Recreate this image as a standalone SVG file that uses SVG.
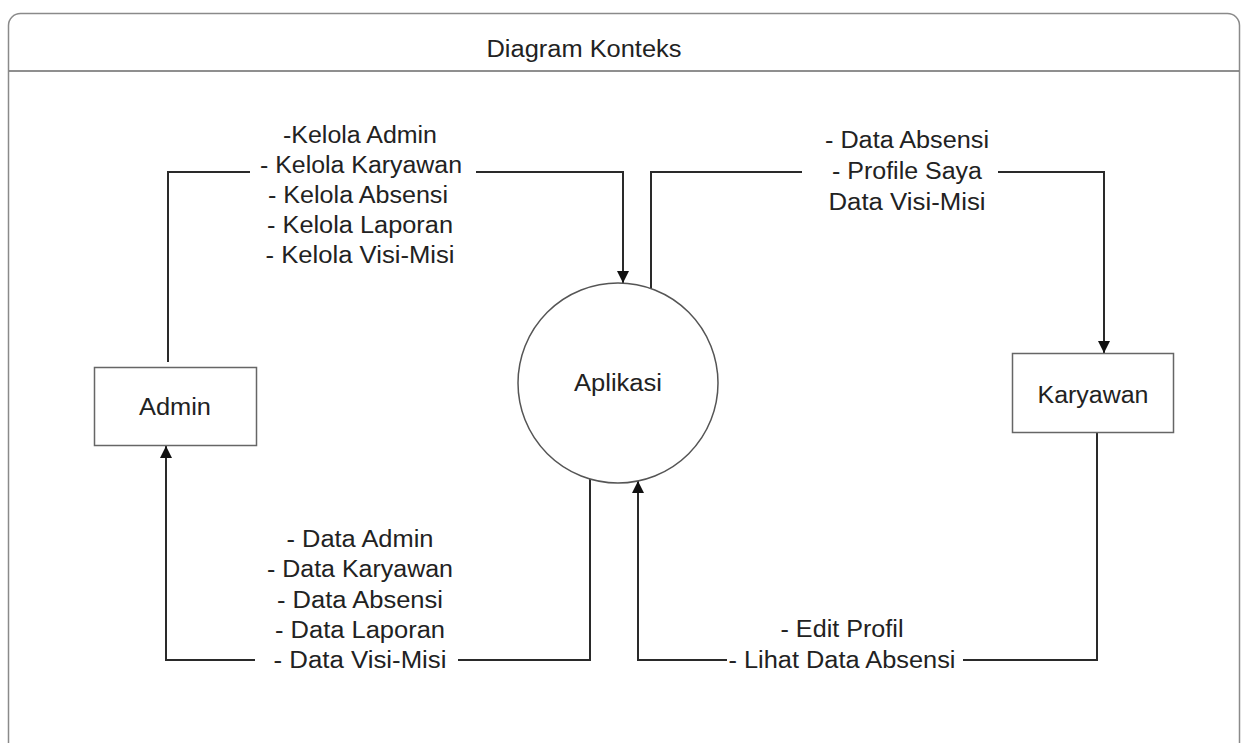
<svg xmlns="http://www.w3.org/2000/svg" width="1244" height="743" viewBox="0 0 1244 743">
<defs>
<marker id="arr" markerUnits="userSpaceOnUse" markerWidth="12" markerHeight="14" refX="12" refY="6" orient="auto">
<path d="M0,0 L12,6 L0,12 Z" fill="#111"/>
</marker>
<style>
text{font-family:"Liberation Sans",Arial,sans-serif;font-size:23px;fill:#222;text-anchor:middle}
.conn{fill:none;stroke:#2a2a2a;stroke-width:2}
.box{fill:#fff;stroke:#666;stroke-width:1.5}
.bg{fill:#fff;stroke:none}
</style>
</defs>
<rect width="1244" height="743" fill="#fff"/>
<g id="frame">
<rect x="8.5" y="13.5" width="1231" height="780" rx="12" ry="12" fill="none" stroke="#8a8a8a" stroke-width="1.5"/>
<line x1="9" y1="71" x2="1239" y2="71" stroke="#6a6a6a" stroke-width="1.5"/>
<text x="584" y="57" textLength="195" lengthAdjust="spacingAndGlyphs">Diagram Konteks</text>
</g>
<g id="connectors">
<path class="conn" d="M168 362 V172 H623 V283" marker-end="url(#arr)"/>
<path class="conn" d="M651 289 V172 H1104 V353" marker-end="url(#arr)"/>
<path class="conn" d="M590 479 V660 H166 V446" marker-end="url(#arr)"/>
<path class="conn" d="M1097 433 V660 H638 V481" marker-end="url(#arr)"/>
</g>
<g id="label-admin-to-app">
<rect class="bg" x="250" y="120" width="226" height="150"/>
<text x="360" y="143" textLength="154" lengthAdjust="spacingAndGlyphs">-Kelola Admin</text>
<text x="361" y="173" textLength="202" lengthAdjust="spacingAndGlyphs">- Kelola Karyawan</text>
<text x="358" y="203" textLength="180" lengthAdjust="spacingAndGlyphs">- Kelola Absensi</text>
<text x="360" y="233" textLength="186" lengthAdjust="spacingAndGlyphs">- Kelola Laporan</text>
<text x="360" y="263" textLength="189" lengthAdjust="spacingAndGlyphs">- Kelola Visi-Misi</text>
</g>
<g id="label-app-to-karyawan">
<rect class="bg" x="802" y="126" width="196" height="92"/>
<text x="907" y="148" textLength="164" lengthAdjust="spacingAndGlyphs">- Data Absensi</text>
<text x="907" y="179" textLength="150" lengthAdjust="spacingAndGlyphs">- Profile Saya</text>
<text x="907" y="210" textLength="157" lengthAdjust="spacingAndGlyphs">Data Visi-Misi</text>
</g>
<g id="label-app-to-admin">
<rect class="bg" x="255" y="525" width="203" height="150"/>
<text x="360" y="547" textLength="147" lengthAdjust="spacingAndGlyphs">- Data Admin</text>
<text x="360" y="577" textLength="186" lengthAdjust="spacingAndGlyphs">- Data Karyawan</text>
<text x="360" y="608" textLength="166" lengthAdjust="spacingAndGlyphs">- Data Absensi</text>
<text x="360" y="638" textLength="170" lengthAdjust="spacingAndGlyphs">- Data Laporan</text>
<text x="360" y="668" textLength="173" lengthAdjust="spacingAndGlyphs">- Data Visi-Misi</text>
</g>
<g id="label-karyawan-to-app">
<rect class="bg" x="727" y="612" width="236" height="64"/>
<text x="842" y="637" textLength="123" lengthAdjust="spacingAndGlyphs">- Edit Profil</text>
<text x="842" y="668" textLength="227" lengthAdjust="spacingAndGlyphs">- Lihat Data Absensi</text>
</g>
<g id="admin">
<rect class="box" x="94.5" y="367.5" width="162" height="78"/>
<text x="175" y="415" textLength="72" lengthAdjust="spacingAndGlyphs">Admin</text>
</g>
<g id="aplikasi">
<circle cx="618" cy="383" r="100" fill="#fff" stroke="#555" stroke-width="1.5"/>
<text x="618" y="391" textLength="88" lengthAdjust="spacingAndGlyphs">Aplikasi</text>
</g>
<g id="karyawan">
<rect class="box" x="1012.5" y="353.5" width="161" height="79"/>
<text x="1093" y="403" textLength="111" lengthAdjust="spacingAndGlyphs">Karyawan</text>
</g>
</svg>
